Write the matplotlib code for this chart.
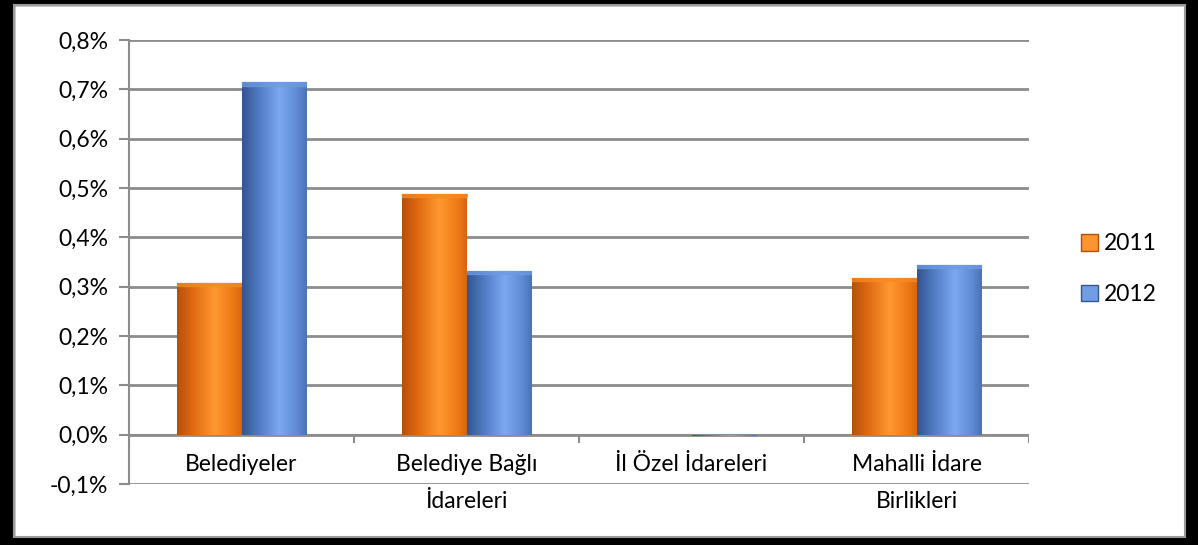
import matplotlib
matplotlib.use("Agg")
import matplotlib.pyplot as plt
import numpy as np
from matplotlib.colors import LinearSegmentedColormap
from matplotlib.patches import Rectangle, Patch

plt.rcParams['font.family'] = ['Lato', 'DejaVu Sans']

# --- data (percent) ---
categories = ["Belediyeler", "Belediye Bağlı\nİdareleri", "İl Özel İdareleri", "Mahalli İdare\nBirlikleri"]
years = ["2011", "2012"]
vals_2011 = [0.308, 0.488, 0.0, 0.318]
vals_2012 = [0.714, 0.332, -0.003, 0.344]
yticks = [-0.1, 0.0, 0.1, 0.2, 0.3, 0.4, 0.5, 0.6, 0.7, 0.8]

orange_cm = LinearSegmentedColormap.from_list(
    "o", [(0, "#b4500c"), (0.25, "#e06a12"), (0.58, "#ff9832"), (0.85, "#ef7a16"), (1, "#d8660e")])
blue_cm = LinearSegmentedColormap.from_list(
    "b", [(0, "#34558f"), (0.25, "#4f7ac2"), (0.58, "#7ca8f2"), (0.85, "#5f8ad4"), (1, "#4a72b6")])
grad = np.linspace(0, 1, 256).reshape(1, -1)

W, H = 1198, 545
FS = 16.5
fig = plt.figure(figsize=(W / 100, H / 100), dpi=100)
ax = fig.add_axes([129 / W, 1 - 484 / H, (1029 - 129) / W, (484 - 40) / H])

ax.set_xlim(-0.5, len(categories) - 0.5)
ax.set_ylim(-0.1, 0.8)
ax.set_yticks(yticks)
ax.set_yticklabels([f"{v:.1f}%".replace(".", ",") for v in yticks], fontsize=FS)
ax.tick_params(axis="y", length=7, color="#8c8c8c", width=1.5, pad=8)
ax.set_xticks([])
for s in ["top", "right", "bottom"]:
    ax.spines[s].set_visible(False)
ax.spines["left"].set_color("#8c8c8c")
ax.spines["left"].set_linewidth(1.5)
ax.grid(axis="y", color="#8c8c8c", linewidth=2)
ax.set_axisbelow(True)

# zero axis with tick marks at category boundaries
ax.axhline(0, color="#8c8c8c", linewidth=1.5, zorder=2.5)
ax.vlines(np.arange(len(categories) + 1) - 0.5, -0.017, 0, color="#8c8c8c", linewidth=1.5, zorder=2.5)

bw = 0.285
x = np.arange(len(categories))
for vals, off, cm in [(vals_2011, -bw / 2, orange_cm), (vals_2012, bw / 2, blue_cm)]:
    bars = ax.bar(x + off, vals, width=bw, color="none", edgecolor="none", zorder=3)
    for b in bars:
        h = b.get_height()
        if abs(h) < 1e-6:
            continue
        x0 = b.get_x()
        y0, y1 = min(0, h), max(0, h)
        im = ax.imshow(grad, cmap=cm, aspect="auto", extent=(x0, x0 + bw, y0, y1), zorder=3)
        im.set_clip_path(b)
        if h > 0:
            ax.add_patch(Rectangle((x0, y1 - 0.007), bw, 0.007, color=cm(0.7), alpha=0.7, zorder=3))

# category labels
for i, c in enumerate(categories):
    ax.annotate(c, xy=(i, 0), xytext=(0, -19), textcoords="offset pixels",
                ha="center", va="top", fontsize=FS, linespacing=1.95, annotation_clip=False)

handles = [Patch(facecolor=orange_cm(0.55), edgecolor=orange_cm(0.0)),
           Patch(facecolor=blue_cm(0.5), edgecolor=blue_cm(0.0))]
fig.legend(handles, years, loc="center left", bbox_to_anchor=(1060 / W, 1 - 269 / H),
           frameon=False, fontsize=FS, handlelength=0.75, handleheight=0.75,
           handletextpad=0.25, labelspacing=1.3)

# outer frame
frame_kw = dict(transform=fig.transFigure, color="black", zorder=10)
fig.patches.extend([
    Rectangle((0, 0), 14 / W, 1, **frame_kw),
    Rectangle((0, 1 - 5 / H), 1, 5 / H, **frame_kw),
    Rectangle((1 - 13 / W, 0), 13 / W, 1, **frame_kw),
    Rectangle((0, 0), 1, 8 / H, **frame_kw),
    Rectangle((14 / W, 8 / H), 1 - 27 / W, 1 - 13 / H, transform=fig.transFigure,
              fill=False, edgecolor="#9a9a9a", linewidth=1.5, zorder=11),
])

fig.savefig("out.png", dpi=100)
